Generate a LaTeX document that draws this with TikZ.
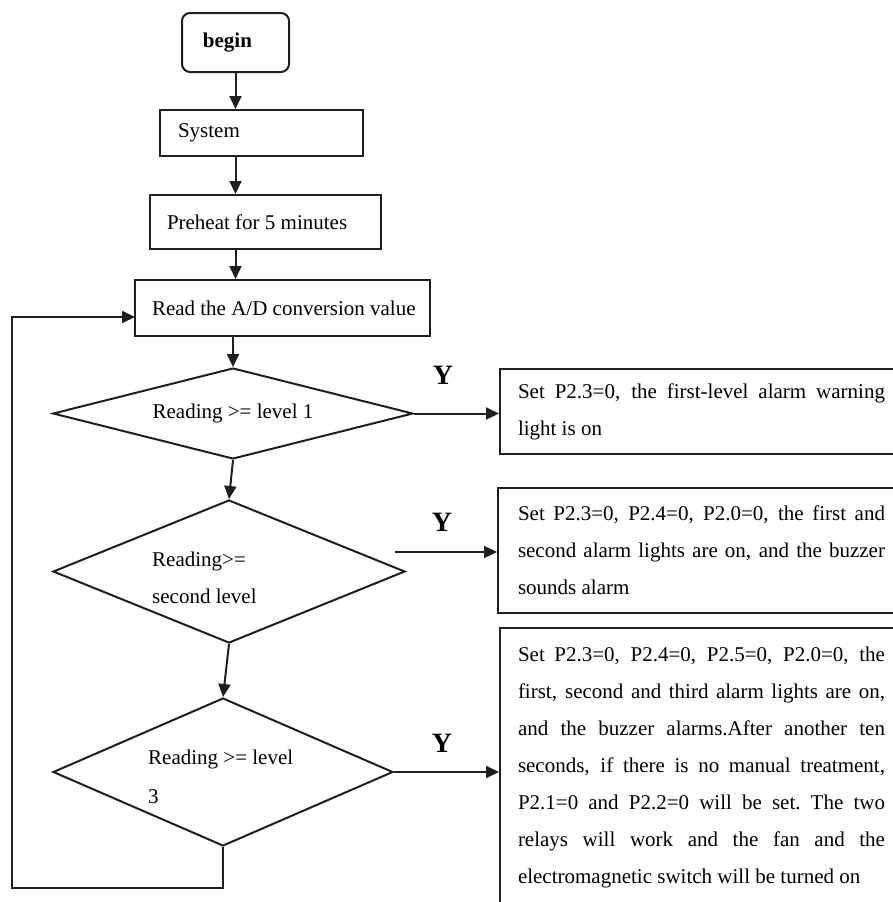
\documentclass[tikz,border=0pt]{standalone}
\usepackage{fontspec}
\setmainfont{Liberation Serif}
\usetikzlibrary{arrows.meta,shapes.geometric,calc}
\definecolor{ink}{RGB}{30,30,30}
\newcommand\bodyfont{\fontsize{21}{37}\selectfont}
% natural interword spacing (TikZ's align removes stretch)
\newcommand\natsp{\spaceskip=0pt\relax\xspaceskip=0pt\relax}
% fully justified line of given width
\newcommand\jline[1]{\makebox[367pt][s]{\spaceskip=0.25em plus 1em\relax\xspaceskip=0.25em plus 1em\relax #1}}
\tikzset{
  base/.style={draw=ink, line width=2pt, inner sep=0pt},
  proc/.style={base, rectangle, align=left, font=\bodyfont},
  dec/.style={base, diamond, aspect=4},
  arr/.style={draw=ink, line width=2pt, -{Triangle[length=13pt,width=12pt]}},
  lbl/.style={font=\fontsize{28}{30}\selectfont\bfseries, inner sep=0pt},
  dtext/.style={anchor=west, align=left, inner sep=0pt},
}
\begin{document}
\begin{tikzpicture}[x=1pt,y=-1pt]
\useasboundingbox (0,0) rectangle (893,902);
\clip (0,0) rectangle (893,902);

% process chain
\node[base, rounded corners=8pt, minimum width=107pt, minimum height=59pt, font=\bodyfont\bfseries] (begin) at (235.5,42.5) {begin\kern16pt};
\node[proc, text width=203pt, minimum height=46pt] (sys) at (261.5,133) {\hspace*{18pt}System};
\node[proc, text width=231pt, minimum height=54pt] (pre) at (265.5,222) {\natsp\hspace*{17pt}Preheat for 5 minutes};
\node[proc, text width=295pt, minimum height=56pt] (read) at (282.5,308) {\natsp\hspace*{17pt}Read the A/D conversion value};

% decisions
\node[dec, minimum width=360pt, minimum height=91pt, font=\bodyfont] (d1) at (233,413.5) {Reading >= level 1};
\node[dec, minimum width=352pt, minimum height=143pt] (d2) at (229,571.5) {};
\node[dtext, font=\bodyfont] (d2t) at (152,578) {Reading>=\\second level};
\node[dec, minimum width=340pt, minimum height=148pt] (d3) at (223,772) {};
\node[dtext, font=\fontsize{21}{39}\selectfont] (d3t) at (148,777) {Reading >= level\\3};

% action boxes
\node[proc, text width=405pt, minimum height=85pt] (b1) at (702.5,411.5)
  {\hspace*{18pt}\jline{Set P2.3=0, the first-level alarm warning}\\
   \natsp\hspace*{18pt}light is on};
\node[proc, text width=405pt, minimum height=125pt] (b2) at (700.5,550.5)
  {\hspace*{20pt}\jline{Set P2.3=0, P2.4=0, P2.0=0, the first and}\\
   \hspace*{20pt}\jline{second alarm lights are on, and the buzzer}\\
   \natsp\hspace*{20pt}sounds alarm};
\node[proc, text width=405pt, minimum height=278pt] (b3) at (702.5,767)
  {\hspace*{18pt}\jline{Set P2.3=0, P2.4=0, P2.5=0, P2.0=0, the}\\
   \hspace*{18pt}\jline{first, second and third alarm lights are on,}\\
   \hspace*{18pt}\jline{and the buzzer alarms.After another ten}\\
   \hspace*{18pt}\jline{seconds, if there is no manual treatment,}\\
   \hspace*{18pt}\jline{P2.1=0 and P2.2=0 will be set. The two}\\
   \hspace*{18pt}\jline{relays will work and the fan and the}\\
   \natsp\hspace*{18pt}electromagnetic switch will be turned on};

% Y labels
\node[lbl] (y1) at (443,375) {Y};
\node[lbl] (y2) at (442,522) {Y};
\node[lbl] (y3) at (442,743) {Y};

% connectors
\draw[arr] (begin.south) -- (begin.south |- sys.north);
\draw[arr] (begin.south |- sys.south) -- (begin.south |- pre.north);
\draw[arr] (begin.south |- pre.south) -- (begin.south |- read.north);
\draw[arr] (d1.north |- read.south) -- (d1.north);
\draw[arr] (d1.south) -- (d2.north);
\draw[arr] (d2.south) -- (d3.north);
\coordinate (loopcorner) at (12,888);
\coordinate (loopin) at (135,317);
\draw[arr] (d3.south) |- (loopcorner) |- (loopin);
\draw[arr] (d1.east) -- (d1.east -| b1.west);
\coordinate (d2out) at (395,552);
\draw[arr] (d2out) -- (d2out -| b2.west);
\draw[arr] (d3.east) -- (d3.east -| b3.west);
\end{tikzpicture}
\end{document}
